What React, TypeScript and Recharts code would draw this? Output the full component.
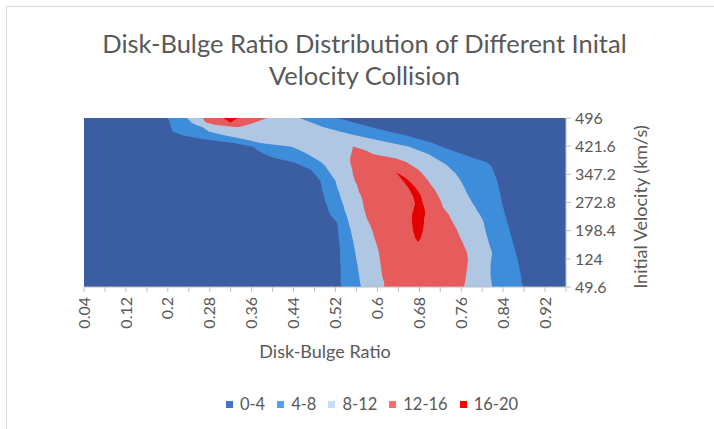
import React from 'react';
import { ComposedChart, Area, XAxis, YAxis } from 'recharts';

// Velocity rows (km/s), top to bottom
const velocity = [496, 490, 484, 478, 472, 460, 450, 440, 430, 420, 410, 400, 390, 380, 370, 360, 350, 340, 330, 320, 310, 300, 290, 280, 270, 260, 250, 240, 230, 220, 200, 180, 170, 160, 140, 120, 100, 80, 60, 49.6];

const ratioMin = 0.04;
const ratioMax = 0.96;

// >= 4 region boundaries (disk-bulge ratio)
const lower4 = [0.200, 0.202, 0.203, 0.205, 0.206, 0.210, 0.229, 0.269, 0.326, 0.362,
  0.372, 0.385, 0.405, 0.438, 0.456, 0.472, 0.479, 0.485, 0.491, 0.493,
  0.494, 0.496, 0.498, 0.500, 0.502, 0.505, 0.507, 0.510, 0.517, 0.523,
  0.525, 0.526, 0.527, 0.528, 0.529, 0.529, 0.530, 0.530, 0.530, 0.531];
const upper4 = [0.523, 0.539, 0.554, 0.571, 0.587, 0.624, 0.655, 0.681, 0.705, 0.723,
  0.742, 0.763, 0.784, 0.808, 0.817, 0.820, 0.823, 0.826, 0.829, 0.830,
  0.832, 0.834, 0.835, 0.837, 0.838, 0.840, 0.842, 0.844, 0.846, 0.848,
  0.852, 0.856, 0.858, 0.860, 0.864, 0.868, 0.871, 0.874, 0.876, 0.878];

// >= 8 region
const lower8 = [0.237, 0.241, 0.245, 0.253, 0.266, 0.279, 0.310, 0.346, 0.376, 0.436,
  0.453, 0.467, 0.480, 0.492, 0.500, 0.505, 0.510, 0.515, 0.520, 0.522,
  0.524, 0.527, 0.529, 0.531, 0.534, 0.536, 0.538, 0.541, 0.543, 0.545,
  0.549, 0.552, 0.554, 0.555, 0.558, 0.560, 0.563, 0.565, 0.567, 0.569];
const upper8 = [0.452, 0.463, 0.474, 0.485, 0.496, 0.530, 0.560, 0.593, 0.627, 0.661,
  0.679, 0.698, 0.711, 0.723, 0.734, 0.741, 0.749, 0.754, 0.759, 0.763,
  0.767, 0.770, 0.774, 0.778, 0.782, 0.787, 0.791, 0.796, 0.800, 0.803,
  0.806, 0.810, 0.812, 0.814, 0.819, 0.817, 0.816, 0.816, 0.818, 0.819];

// >= 12 region
const lower12 = [0.267, 0.269, 0.273, 0.290, 0.328, null, null, null, null, 0.553,
  0.552, 0.550, 0.548, 0.548, 0.550, 0.552, 0.553, 0.555, 0.557, 0.561,
  0.563, 0.565, 0.569, 0.571, 0.573, 0.574, 0.576, 0.578, 0.580, 0.584,
  0.590, 0.594, 0.597, 0.599, 0.603, 0.605, 0.607, 0.609, 0.613, 0.613];
const upper12 = [0.389, 0.378, 0.366, 0.353, 0.336, null, null, null, null, 0.555,
  0.578, 0.592, 0.634, 0.655, 0.666, 0.678, 0.685, 0.691, 0.697, 0.702,
  0.708, 0.712, 0.716, 0.720, 0.723, 0.725, 0.731, 0.737, 0.740, 0.744,
  0.752, 0.758, 0.762, 0.765, 0.771, 0.773, 0.771, 0.769, 0.767, 0.765];

// >= 16 region
const lower16 = [0.305, 0.313, 0.319, null, null, null, null, null, null, null,
  null, null, null, null, null, null, 0.637, 0.643, 0.649, 0.655,
  0.660, 0.664, 0.668, 0.670, 0.672, 0.670, 0.668, 0.666, 0.666, 0.666,
  0.668, 0.672, 0.677, null, null, null, null, null, null, null];
const upper16 = [0.334, 0.326, 0.320, null, null, null, null, null, null, null,
  null, null, null, null, null, null, 0.639, 0.651, 0.660, 0.668,
  0.674, 0.679, 0.683, 0.685, 0.687, 0.689, 0.691, 0.691, 0.689, 0.689,
  0.687, 0.683, 0.679, null, null, null, null, null, null, null];

const ratioTicks = [0.04, 0.08, 0.12, 0.16, 0.2, 0.24, 0.28, 0.32, 0.36, 0.4, 0.44, 0.48, 0.52, 0.56, 0.6, 0.64, 0.68, 0.72, 0.76, 0.8, 0.84, 0.88, 0.92, 0.96];
const ratioLabels = ['0.04', '0.12', '0.2', '0.28', '0.36', '0.44', '0.52', '0.6', '0.68', '0.76', '0.84', '0.92'];
const velocityTicks = [49.6, 124, 198.4, 272.8, 347.2, 421.6, 496];

const bandNames = ['0-4', '4-8', '8-12', '12-16', '16-20'];
const bandFills = ['#3b5ea3', '#3e8ddb', '#afc7e2', '#e65b5b', '#e30000'];
const legendColors = ['#4472c4', '#4da3f2', '#c5ddf6', '#ff6b6b', '#ff0000'];

const TEXT = '#595959';
const FONT = 'Lato, "Open Sans", sans-serif';

const XTick = (props: any) => {
  const { x, y, payload } = props;
  const s = String(payload.value);
  if (!ratioLabels.includes(s)) return null;
  const ty = y + 3;
  return (
    <text x={x} y={ty} transform={`rotate(-90 ${x} ${ty})`} textAnchor="end" dy="0.35em" fill={TEXT} fontSize={16} fontFamily={FONT}>
      {s}
    </text>
  );
};

export default function App() {
  const data = velocity.map((v, i) => ({
    v,
    band0: [ratioMin, ratioMax],
    band4: [lower4[i], upper4[i]],
    band8: [lower8[i], upper8[i]],
    band12: lower12[i] == null ? null : [lower12[i], upper12[i]],
    band16: lower16[i] == null ? null : [lower16[i], upper16[i]],
  }));
  const keys = ['band0', 'band4', 'band8', 'band12', 'band16'];

  return (
    <div style={{ position: 'fixed', left: 0, top: 0, width: 714, height: 429, background: '#fff', overflow: 'hidden', fontFamily: FONT }}>
      <div style={{ position: 'absolute', left: 6, top: 6, width: 730, height: 440, border: '1px solid #d9d9d9' }} />
      <div style={{ position: 'absolute', left: 0, top: 27, width: 729, textAlign: 'center', fontSize: 25.5, lineHeight: '32px', color: TEXT, whiteSpace: 'nowrap' }}>
        Disk-Bulge Ratio Distribution of Different Inital<br />Velocity Collision
      </div>
      <div style={{ position: 'absolute', left: 0, top: 0 }}>
        <ComposedChart layout="vertical" width={714} height={429} data={data} margin={{ top: 118, left: 84, right: 88, bottom: 82 }}>
          <XAxis
            type="number"
            domain={[ratioMin, ratioMax]}
            ticks={ratioTicks}
            interval={0}
            allowDataOverflow
            height={60}
            tick={<XTick />}
            tickSize={5}
            tickLine={{ stroke: '#bfbfbf' }}
            axisLine={{ stroke: '#bfbfbf' }}
          />
          <YAxis
            type="number"
            dataKey="v"
            orientation="right"
            domain={[49.6, 496]}
            ticks={velocityTicks}
            interval={0}
            allowDataOverflow
            reversed
            width={60}
            tickSize={5}
            tickMargin={4}
            tickLine={{ stroke: '#bfbfbf' }}
            axisLine={{ stroke: '#bfbfbf' }}
            tick={{ fill: TEXT, fontSize: 16, fontFamily: FONT }}
          />
          {keys.map((k, i) => (
            <Area
              key={k}
              dataKey={k}
              name={bandNames[i]}
              type="linear"
              fill={bandFills[i]}
              fillOpacity={1}
              stroke="none"
              dot={false}
              activeDot={false}
              isAnimationActive={false}
            />
          ))}
        </ComposedChart>
      </div>
      <div style={{ position: 'absolute', left: 225, top: 340, width: 200, textAlign: 'center', fontSize: 18, color: TEXT, whiteSpace: 'nowrap' }}>
        Disk-Bulge Ratio
      </div>
      <div style={{ position: 'absolute', left: 640 - 100, top: 207 - 11, width: 200, height: 22, lineHeight: '22px', textAlign: 'center', fontSize: 18, color: TEXT, transform: 'rotate(-90deg)', whiteSpace: 'nowrap' }}>
        Initial Velocity (km/s)
      </div>
      <div style={{ position: 'absolute', left: 0, top: 394, width: 744, display: 'flex', justifyContent: 'center', fontSize: 16.5, color: TEXT, lineHeight: '20px' }}>
        {bandNames.map((n, i) => (
          <div key={n} style={{ display: 'flex', alignItems: 'center', marginRight: i < bandNames.length - 1 ? 12 : 0 }}>
            <span style={{ display: 'inline-block', width: 7, height: 7, background: legendColors[i], marginRight: 7 }} />
            <span>{n}</span>
          </div>
        ))}
      </div>
    </div>
  );
}
